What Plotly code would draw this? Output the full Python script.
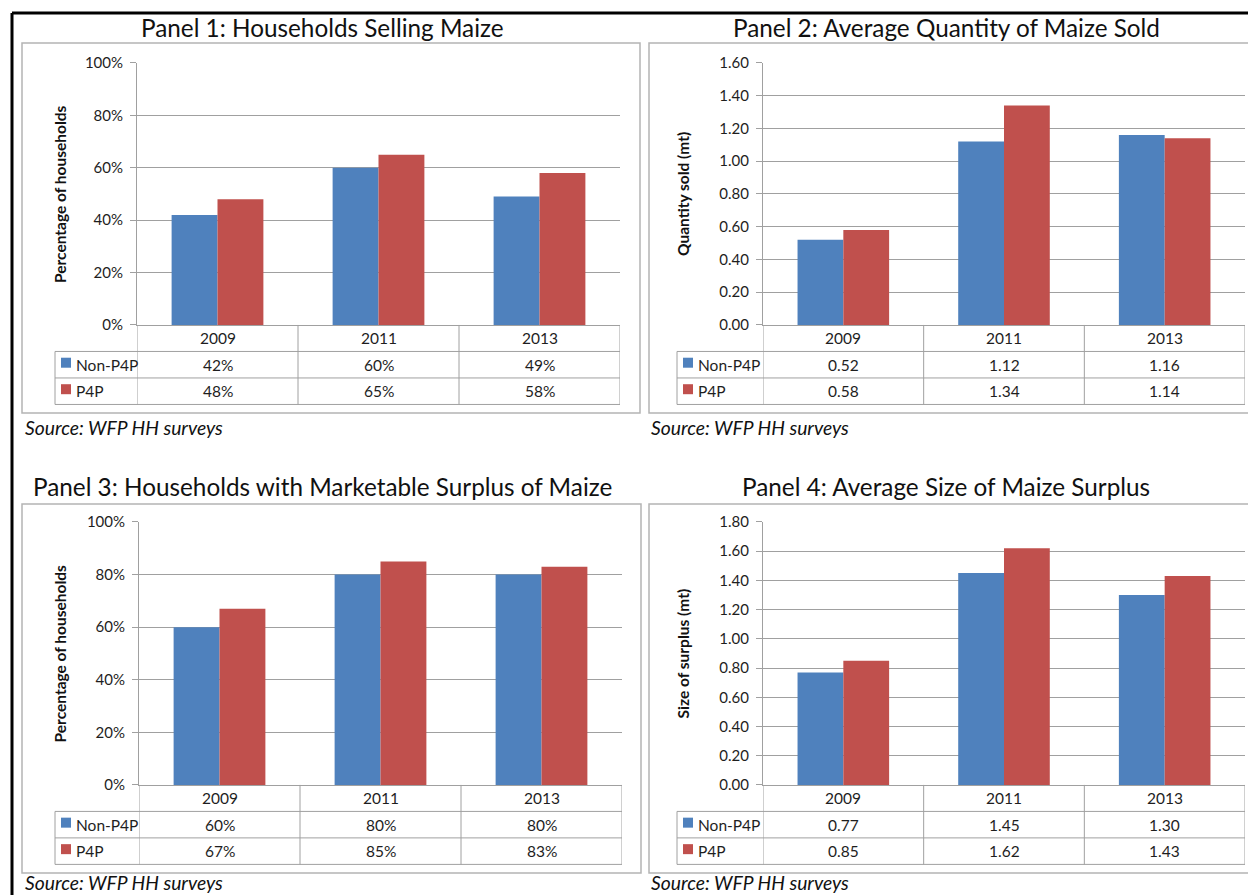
import plotly.graph_objects as go

# ---- data -------------------------------------------------------------
years = ["2009", "2011", "2013"]
series_names = ["Non-P4P", "P4P"]

selling_non_p4p = [42, 60, 49]          # % of households selling maize
selling_p4p = [48, 65, 58]
qty_sold_non_p4p = [0.52, 1.12, 1.16]   # average quantity sold (mt)
qty_sold_p4p = [0.58, 1.34, 1.14]
surplus_hh_non_p4p = [60, 80, 80]       # % of households with marketable surplus
surplus_hh_p4p = [67, 85, 83]
surplus_size_non_p4p = [0.77, 1.45, 1.30]  # average size of surplus (mt)
surplus_size_p4p = [0.85, 1.62, 1.43]

panel_titles = [
    "Panel 1: Households Selling Maize",
    "Panel 2: Average Quantity of Maize Sold",
    "Panel 3: Households with Marketable Surplus of Maize",
    "Panel 4: Average Size of Maize Surplus",
]
y_titles = [
    "Percentage of households",
    "Quantity sold (mt)",
    "Percentage of households",
    "Size of surplus (mt)",
]
source_note = "Source: WFP HH surveys"

# ---- styling / geometry --------------------------------------------------
W, H = 1248, 895
Y_OFF, Y_SCALE = 10.0, 0.98      # vertical layout grid -> figure pixels
BLUE, RED = "#4F81BD", "#C0504D"
GRID = "#a0a0a0"
FRAME = "#b4b4b4"
FONT = "Lato"
TXT = "#1e1e1e"
ROW_H = 26.5


def px(x):
    """layout x (pixels) -> paper fraction"""
    return min(max(x / W, 0.0), 1.0)


def py(y):
    """layout y (pixels, from top) -> paper fraction"""
    return 1 - ((y - Y_OFF) / Y_SCALE) / H


panels = [
    dict(series=(selling_non_p4p, selling_p4p), pct=True, ymax=100, dtick=20,
         x0=137, x1=620, ytop=63, yzero=325, xleg=55,
         frame=(22, 43, 640, 413), title_xy=(322, 28), source_xy=(23, 428), ytitle_x=60),
    dict(series=(qty_sold_non_p4p, qty_sold_p4p), pct=False, ymax=1.6, dtick=0.2,
         x0=763, x1=1245, ytop=63, yzero=325, xleg=677,
         frame=(649, 43, 1260, 413), title_xy=(946, 28), source_xy=(649, 428), ytitle_x=683),
    dict(series=(surplus_hh_non_p4p, surplus_hh_p4p), pct=True, ymax=100, dtick=20,
         x0=139, x1=622, ytop=522, yzero=785, xleg=55,
         frame=(22, 504, 641, 873), title_xy=(322, 487), source_xy=(23, 882.5), ytitle_x=60),
    dict(series=(surplus_size_non_p4p, surplus_size_p4p), pct=False, ymax=1.8, dtick=0.2,
         x0=763, x1=1245, ytop=522, yzero=785, xleg=677,
         frame=(649, 504, 1260, 873), title_xy=(946, 487), source_xy=(649, 882.5), ytitle_x=683),
]

fig = go.Figure()
shapes = []
annotations = []
layout_axes = {}

for i, p in enumerate(panels, start=1):
    xa, ya = f"x{i}", f"y{i}"
    colors = (BLUE, RED)

    for name, vals, col in zip(series_names, p["series"], colors):
        fig.add_trace(go.Bar(
            x=years, y=vals, name=name, marker=dict(color=col, line=dict(width=0)),
            xaxis=xa, yaxis=ya, showlegend=False, offsetgroup=name,
        ))

    layout_axes[f"xaxis{i}"] = dict(
        domain=[px(p["x0"]), px(p["x1"])], anchor=ya, type="category",
        range=[-0.5, 2.5], showticklabels=False, showgrid=False, zeroline=False,
        showline=True, linecolor=GRID, linewidth=1, ticks="",
    )
    layout_axes[f"yaxis{i}"] = dict(
        domain=[py(p["yzero"]), py(p["ytop"])], anchor=xa,
        range=[0, p["ymax"]], dtick=p["dtick"], tick0=0,
        showgrid=True, gridcolor=GRID, gridwidth=1, zeroline=False,
        showline=True, linecolor=GRID, linewidth=1,
        ticks="outside", ticklen=6, tickcolor=GRID, tickwidth=1,
        ticksuffix="%" if p["pct"] else "",
        tickformat="d" if p["pct"] else ".2f",
        tickfont=dict(family=FONT, size=15, color=TXT),
        ticklabelstandoff=4,
    )

    # outer frame of the panel
    fx0, fy0, fx1, fy1 = p["frame"]
    shapes.append(dict(type="rect", xref="paper", yref="paper",
                       x0=px(fx0), x1=px(fx1) + (0.01 if fx1 > W else 0),
                       y0=py(fy1), y1=py(fy0),
                       line=dict(color=FRAME, width=1.5), layer="below"))

    # data table under the plot
    yz = p["yzero"]
    rows_y = [yz, yz + ROW_H, yz + 2 * ROW_H, yz + 3 * ROW_H]
    line_style = dict(color=GRID, width=1)
    for y in rows_y[1:]:
        shapes.append(dict(type="line", xref="paper", yref="paper",
                           x0=px(p["xleg"]), x1=px(p["x1"]), y0=py(y), y1=py(y), line=line_style))
    shapes.append(dict(type="line", xref="paper", yref="paper",
                       x0=px(p["xleg"]), x1=px(p["xleg"]), y0=py(rows_y[1]), y1=py(rows_y[3]),
                       line=line_style))
    for k in range(len(years) + 1):
        shapes.append(dict(type="line", xref=xa, yref="paper",
                           x0=k - 0.5, x1=k - 0.5, y0=py(rows_y[0]), y1=py(rows_y[3]),
                           line=line_style))

    cell_font = dict(family=FONT, size=15.5, color=TXT)
    for j, yr in enumerate(years):
        annotations.append(dict(xref=xa, yref="paper", x=j, y=py(yz + ROW_H / 2),
                                text=yr, showarrow=False, font=cell_font,
                                xanchor="center", yanchor="middle"))
    for r, (name, vals, col) in enumerate(zip(series_names, p["series"], colors)):
        yc = yz + ROW_H * (r + 1.5)
        for j, v in enumerate(vals):
            txt = f"{v}%" if p["pct"] else f"{v:.2f}"
            annotations.append(dict(xref=xa, yref="paper", x=j, y=py(yc),
                                    text=txt, showarrow=False, font=cell_font,
                                    xanchor="center", yanchor="middle"))
        # legend key + series name
        sx = p["xleg"] + 6
        shapes.append(dict(type="rect", xref="paper", yref="paper",
                           x0=px(sx), x1=px(sx + 10), y0=py(yc + 3), y1=py(yc - 7),
                           fillcolor=col, line=dict(width=0)))
        annotations.append(dict(xref="paper", yref="paper", x=px(sx + 13), y=py(yc),
                                text=name, showarrow=False, font=cell_font,
                                xanchor="left", yanchor="middle"))

    # panel title
    tx, ty = p["title_xy"]
    annotations.append(dict(xref="paper", yref="paper", x=px(tx), y=py(ty),
                            text=panel_titles[i - 1], showarrow=False,
                            font=dict(family=FONT, size=24.3, color="#111111"),
                            xanchor="center", yanchor="middle"))
    # y-axis title
    annotations.append(dict(xref="paper", yref="paper", x=px(p["ytitle_x"]),
                            y=py((p["ytop"] + p["yzero"]) / 2),
                            text=f"<b>{y_titles[i - 1]}</b>", textangle=-90, showarrow=False,
                            font=dict(family=FONT, size=15.5, color="#111111"),
                            xanchor="center", yanchor="middle"))
    # source note
    sx, sy = p["source_xy"]
    annotations.append(dict(xref="paper", yref="paper", x=px(sx), y=py(sy),
                            text=f"<i>{source_note}</i>", showarrow=False,
                            font=dict(family=FONT, size=19.3, color="#111111"),
                            xanchor="left", yanchor="middle"))

# heavy black border along the top and left of the page
shapes.append(dict(type="line", xref="paper", yref="paper", x0=px(12), x1=1.01,
                   y0=py(13), y1=py(13), line=dict(color="black", width=3)))
shapes.append(dict(type="line", xref="paper", yref="paper", x0=px(12), x1=px(12),
                   y0=py(13), y1=-0.01, line=dict(color="black", width=3)))

fig.update_layout(
    width=W, height=H, autosize=False,
    margin=dict(l=0, r=0, t=0, b=0, pad=0),
    paper_bgcolor="white", plot_bgcolor="white",
    barmode="group", bargap=0.43, bargroupgap=0,
    shapes=shapes, annotations=annotations,
    font=dict(family=FONT, color=TXT),
    **layout_axes,
)

fig.write_html("out.html")
